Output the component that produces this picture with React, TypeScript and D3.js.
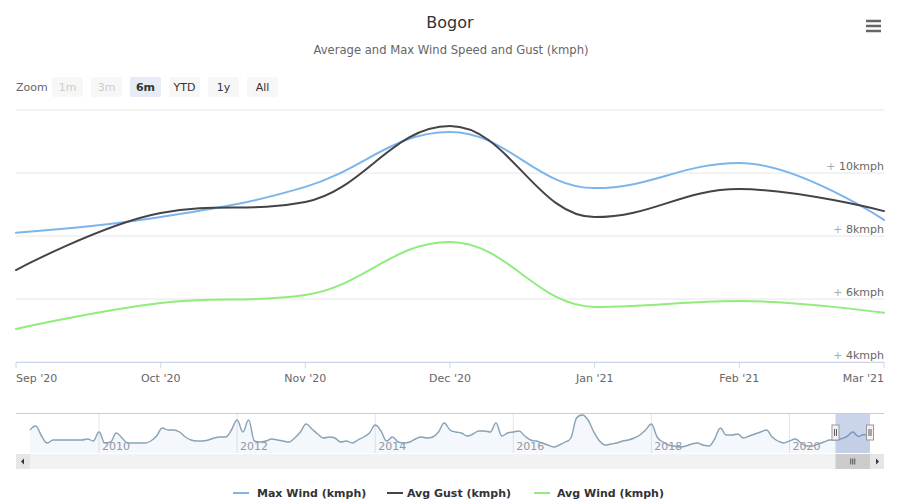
import React from "react";
import * as d3 from "d3";

const months = ["Sep '20", "Oct '20", "Nov '20", "Dec '20", "Jan '21", "Feb '21", "Mar '21"];
const maxWind = [8.1, 8.6, 9.56, 11.3, 9.52, 10.32, 8.51];
const avgGust = [6.92, 8.73, 9.08, 11.49, 8.6, 9.49, 8.79];
const avgWind = [5.05, 5.87, 6.13, 7.81, 5.75, 5.94, 5.56];
const yTicks = [4, 6, 8, 10];
const yDomain = [4, 12];

const zoomButtons = ["1m", "3m", "6m", "YTD", "1y", "All"];
const disabledButtons = ["1m", "3m"];
const selectedButton = "6m";

const navStartYear = 2009;
const navYears = [2010, 2012, 2014, 2016, 2018, 2020];
const navValues = [
  12.1, 13.7, 9.7, 6.9, 8.1, 8.1, 8.1, 8.1, 8.1, 8.1, 8.5, 7.7,
  11.3, 6.9, 7.3, 10.9, 8.9, 6.9, 6.9, 6.9, 6.9, 7.7, 9.7, 12.9,
  12.1, 12.1, 11.3, 9.3, 8.1, 7.7, 7.7, 8.1, 8.9, 9.3, 9.3, 12.1,
  16.1, 11.3, 16.1, 7.7, 7.3, 7.7, 8.5, 8.1, 7.7, 7.3, 8.9, 11.3,
  14.5, 12.5, 10.5, 8.9, 9.3, 8.9, 7.3, 7.7, 6.9, 8.1, 9.3, 10.9,
  14.1, 11.7, 7.7, 9.3, 7.3, 6.9, 7.3, 8.5, 9.3, 8.9, 9.3, 11.3,
  14.9, 12.1, 11.3, 10.9, 9.7, 10.5, 11.7, 11.7, 11.3, 14.9, 9.7, 10.9,
  11.3, 11.7, 9.7, 8.1, 7.7, 6.9, 6.1, 5.3, 6.1, 7.3, 8.9, 16.9,
  18.1, 16.1, 11.3, 7.7, 6.1, 6.5, 6.9, 7.7, 8.1, 8.9, 10.1, 12.1,
  14.5, 9.3, 7.3, 6.1, 5.7, 5.3, 5.7, 6.5, 6.9, 6.1, 5.7, 8.5,
  12.9, 10.1, 10.1, 10.5, 8.9, 9.7, 10.5, 11.3, 12.1, 9.3, 7.7, 6.9,
  7.7, 8.5, 6.9, 5.7, 5.7, 6.5, 7.3, 8.1,
  8.1, 8.6, 9.56, 11.3, 9.52, 10.32, 8.51,
];
const navSelStart = 140;
const navSelEnd = 146;

const seriesList = [
  { name: "Max Wind (kmph)", values: maxWind, color: "#7cb5ec" },
  { name: "Avg Gust (kmph)", values: avgGust, color: "#434348" },
  { name: "Avg Wind (kmph)", values: avgWind, color: "#90ed7d" },
];

const FONT = "'DejaVu Sans', Verdana, sans-serif";

function splinePath(pts: [number, number][]) {
  const p = d3.path();
  const n = pts.length;
  const ctrl = pts.map(() => ({ lx: NaN, ly: NaN, rx: NaN, ry: NaN }));
  const s = 1.5;
  const den = s + 1;
  for (let i = 1; i < n - 1; i++) {
    const [x, y] = pts[i];
    const [px, py] = pts[i - 1];
    const [nx, ny] = pts[i + 1];
    const lcx = (s * x + px) / den;
    let lcy = (s * y + py) / den;
    const rcx = (s * x + nx) / den;
    let rcy = (s * y + ny) / den;
    const corr = ((rcy - lcy) * (rcx - x)) / (rcx - lcx) + y - rcy;
    lcy += corr;
    rcy += corr;
    if (lcy > py && lcy > y) {
      lcy = Math.max(py, y);
      rcy = 2 * y - lcy;
    } else if (lcy < py && lcy < y) {
      lcy = Math.min(py, y);
      rcy = 2 * y - lcy;
    }
    if (rcy > ny && rcy > y) {
      rcy = Math.max(ny, y);
      lcy = 2 * y - rcy;
    } else if (rcy < ny && rcy < y) {
      rcy = Math.min(ny, y);
      lcy = 2 * y - rcy;
    }
    ctrl[i] = { lx: lcx, ly: lcy, rx: rcx, ry: rcy };
  }
  p.moveTo(pts[0][0], pts[0][1]);
  for (let i = 1; i < n; i++) {
    const [x0, y0] = pts[i - 1];
    const [x, y] = pts[i];
    const c0 = ctrl[i - 1];
    const c1 = ctrl[i];
    p.bezierCurveTo(
      isNaN(c0.rx) ? x0 : c0.rx,
      isNaN(c0.ry) ? y0 : c0.ry,
      isNaN(c1.lx) ? x : c1.lx,
      isNaN(c1.ly) ? y : c1.ly,
      x,
      y
    );
  }
  return p.toString();
}

export default function App() {
  const W = 899;
  const H = 502;
  const plotL = 16;
  const plotR = 884;
  const plotT = 110;
  const plotB = 362;

  const x = d3.scalePoint<string>().domain(months).range([plotL, plotR]);
  const y = d3.scaleLinear().domain(yDomain).range([plotB, plotT]);
  const gridVals = d3.range(yDomain[0], yDomain[1] + 0.001, 2);

  const navT = 413;
  const navB = 453;
  const navX = d3.scaleLinear().domain([0, navValues.length - 1]).range([30, 870]);
  const ext = d3.extent(navValues) as [number, number];
  const navY = d3.scaleLinear().domain(ext).range([447, 415]);
  const navPts: [number, number][] = navValues.map((v, i) => [navX(i), navY(v)]);
  const navLine = splinePath(navPts);
  const navArea = navLine + `L${navX(navValues.length - 1)},${navB}L${navX(0)},${navB}Z`;
  const selL = navX(navSelStart);
  const selR = navX(navSelEnd);
  const navMid = (navT + navB) / 2;
  const sbT = 454;
  const sbH = 15;

  const legendItems = [
    { sx: 233, tx: 257 },
    { sx: 387, tx: 407 },
    { sx: 534, tx: 557 },
  ];

  return (
    <svg
      width={W}
      height={H}
      style={{ position: "absolute", left: 0, top: 0, background: "#fff", fontFamily: FONT }}
    >
      <rect x={0} y={0} width={W} height={H} fill="#ffffff" />
      {/* Title */}
      <text x={450} y={28} textAnchor="middle" fontSize={16} fill="#333333">
        Bogor
      </text>
      <text x={451} y={54} textAnchor="middle" fontSize={11.6} fill="#666666">
        Average and Max Wind Speed and Gust (kmph)
      </text>
      {/* Menu icon */}
      {[21, 26, 31].map((yy) => (
        <line key={yy} x1={866} x2={881} y1={yy} y2={yy} stroke="#666" strokeWidth={2.5} />
      ))}

      {/* Range selector */}
      <text x={16} y={91} fontSize={11} fill="#666666">
        Zoom
      </text>
      {zoomButtons.map((b, i) => {
        const bx = 52 + i * 39;
        const sel = b === selectedButton;
        const dis = disabledButtons.includes(b);
        return (
          <g key={b}>
            <rect x={bx} y={77} width={31} height={20} fill={sel ? "#e6ebf5" : "#f7f7f7"} rx={2} />
            <text
              x={bx + 15.5}
              y={91}
              textAnchor="middle"
              fontSize={11}
              fontWeight={sel ? "bold" : "normal"}
              fill={dis ? "#cccccc" : "#333333"}
            >
              {b}
            </text>
          </g>
        );
      })}

      {/* Grid */}
      {gridVals.map((v) => (
        <line key={v} x1={plotL} x2={plotR} y1={y(v)} y2={y(v)} stroke="#e6e6e6" strokeWidth={1} />
      ))}
      {/* X axis */}
      <line x1={plotL} x2={plotR} y1={plotB + 0.5} y2={plotB + 0.5} stroke="#ccd6eb" strokeWidth={1} />
      {months.map((m, i) => {
        const xx = x(m) as number;
        const anchor = i === 0 ? "start" : i === months.length - 1 ? "end" : "middle";
        return (
          <g key={m}>
            <line x1={xx} x2={xx} y1={plotB} y2={plotB + 6} stroke="#ccd6eb" />
            <text x={xx} y={382} textAnchor={anchor} fontSize={11} fill="#666666">
              {m}
            </text>
          </g>
        );
      })}
      {/* Y labels */}
      {yTicks.map((v) => (
        <text key={v} x={plotR} y={y(v) - 3} textAnchor="end" fontSize={11} fill="#666666">
          <tspan fill="#aaaaaa">+ </tspan>
          {`${v}kmph`}
        </text>
      ))}

      {/* Series */}
      {seriesList.map((s) => (
        <path
          key={s.name}
          d={splinePath(s.values.map((v, i) => [x(months[i]) as number, y(v)]))}
          fill="none"
          stroke={s.color}
          strokeWidth={2}
          strokeLinejoin="round"
          strokeLinecap="round"
        />
      ))}

      {/* Navigator */}
      {navYears.map((yr) => {
        const xx = navX((yr - navStartYear) * 12);
        return (
          <g key={yr}>
            <line x1={xx} x2={xx} y1={navT} y2={navB} stroke="#e6e6e6" />
            <text x={xx + 3} y={450} fontSize={11} fill="#999999">
              {yr}
            </text>
          </g>
        );
      })}
      <path d={navArea} fill="#4a7bc0" fillOpacity={0.06} stroke="none" />
      <path d={navLine} fill="none" stroke="#88a2b6" strokeWidth={1.4} />
      <rect x={selL} y={navT} width={selR - selL} height={navB - navT} fill="rgba(102,133,194,0.35)" />
      <line x1={plotL} x2={plotR} y1={navT + 0.5} y2={navT + 0.5} stroke="#cccccc" />
      {[selL, selR].map((hx, i) => (
        <g key={i}>
          <rect x={hx - 3.5} y={navMid - 8} width={7} height={15} fill="#f2f2f2" stroke="#999999" />
          <line x1={hx - 1} x2={hx - 1} y1={navMid - 4} y2={navMid + 3} stroke="#333" strokeWidth={0.8} />
          <line x1={hx + 1} x2={hx + 1} y1={navMid - 4} y2={navMid + 3} stroke="#333" strokeWidth={0.8} />
        </g>
      ))}

      {/* Scrollbar */}
      <rect x={plotL} y={sbT} width={plotR - plotL} height={sbH} fill="#f2f2f2" />
      <rect x={plotL} y={sbT} width={14} height={sbH} fill="#e6e6e6" />
      <path d={`M${plotL + 8},${sbT + 4.5}L${plotL + 5},${sbT + 7.5}L${plotL + 8},${sbT + 10.5}Z`} fill="#333" />
      <rect x={plotR - 14} y={sbT} width={14} height={sbH} fill="#e6e6e6" />
      <path d={`M${plotR - 8},${sbT + 4.5}L${plotR - 5},${sbT + 7.5}L${plotR - 8},${sbT + 10.5}Z`} fill="#333" />
      <rect x={selL} y={sbT} width={selR - selL} height={sbH} fill="#cccccc" />
      {[-2, 0, 2].map((d) => (
        <line
          key={d}
          x1={(selL + selR) / 2 + d}
          x2={(selL + selR) / 2 + d}
          y1={sbT + 4.5}
          y2={sbT + 10.5}
          stroke="#333"
          strokeWidth={0.8}
        />
      ))}

      {/* Legend */}
      {seriesList.map((s, i) => (
        <g key={s.name}>
          <line
            x1={legendItems[i].sx}
            x2={legendItems[i].sx + 16}
            y1={493}
            y2={493}
            stroke={s.color}
            strokeWidth={2}
          />
          <text x={legendItems[i].tx} y={497} fontSize={11} fontWeight="bold" fill="#333333">
            {s.name}
          </text>
        </g>
      ))}
    </svg>
  );
}
